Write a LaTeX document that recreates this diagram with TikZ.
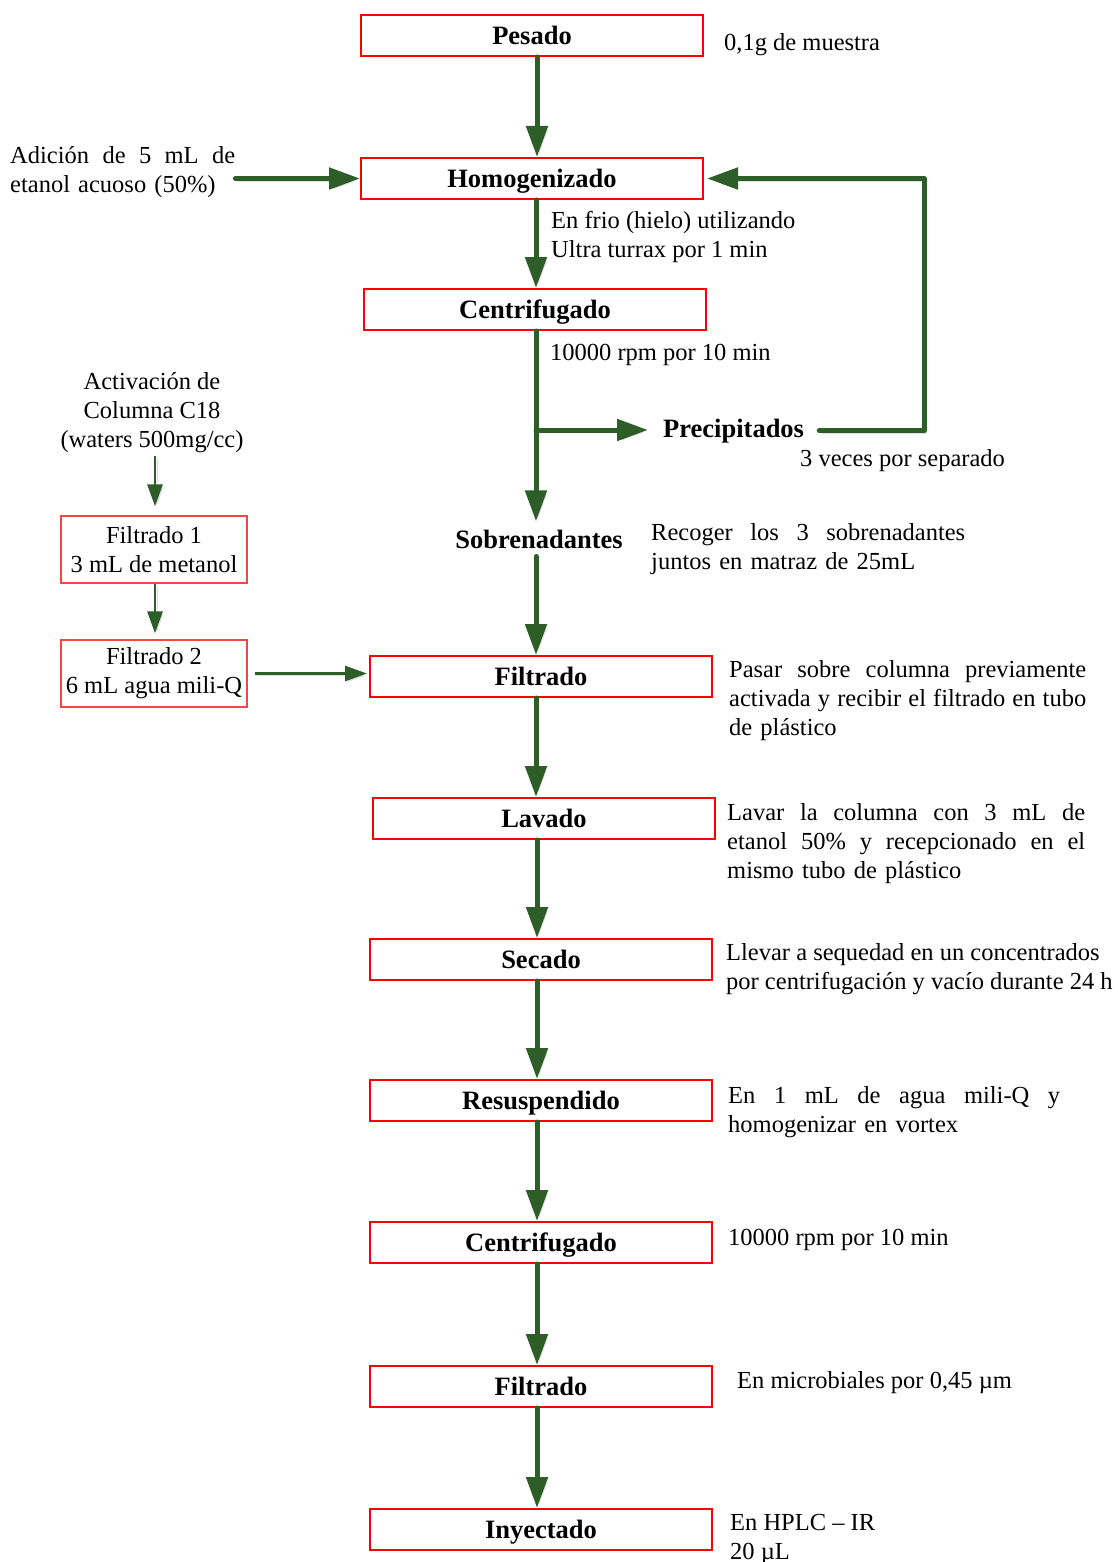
\documentclass[tikz,border=0pt]{standalone}
\usepackage{fontspec}
\setmainfont{Liberation Serif}
\usetikzlibrary{arrows.meta,calc}
\definecolor{flowgreen}{RGB}{46,94,40}
\definecolor{boxred}{RGB}{255,0,0}
\definecolor{softred}{RGB}{245,70,70}
% one justified line of a fixed width (in pt): interword glue stretches to fill
\newcommand{\jl}[2]{\leavevmode\hbox to #1pt{\spaceskip=0.25em plus 1fil\relax #2}}

\begin{document}
\begin{tikzpicture}[x=1pt,y=-1pt,
  every node/.style={font=\fontsize{24.5}{29}\selectfont},
  stage/.style={draw=boxred, line width=2pt, minimum width=342pt, minimum height=41pt,
    inner sep=0pt, text height=18pt, text depth=0pt,
    font=\fontsize{26.5}{30}\selectfont\bfseries},
  sidebox/.style={draw=softred, line width=1.3pt, minimum width=186pt, minimum height=67pt,
    align=center, inner sep=0pt},
  note/.style={inner sep=0pt, anchor=base west},
  block/.style={inner sep=0pt, anchor=north west, align=left},
  tagtext/.style={inner sep=0pt, font=\fontsize{26.5}{30}\selectfont\bfseries},
  flow/.style={draw=flowgreen, line width=5pt, line cap=round, line join=round,
    -{Triangle[length=31pt,width=21pt]},
    preaction={draw=black!13, transform canvas={xshift=2.5pt,yshift=-2.5pt}}},
  thinflow/.style={draw=flowgreen, line width=2.8pt,
    -{Triangle[length=22pt,width=15pt]},
    preaction={draw=black!13, transform canvas={xshift=2pt,yshift=-2pt}}},
]
\useasboundingbox (0,0) rectangle (1117,1562);
\fill[white] (0,0) rectangle (1117,1562);

% main process column
\node[stage] (pes)  at (532,35.5)   {Pesado};
\node[stage] (hom)  at (532,178.5)  {Homogenizado};
\node[stage] (cen1) at (535,309.5)  {Centrifugado};
\node[stage] (fil1) at (541,676.5)  {Filtrado};
\node[stage] (lav)  at (544,818.5)  {Lavado};
\node[stage] (sec)  at (541,959.5)  {Secado};
\node[stage] (res)  at (541,1100.5) {Resuspendido};
\node[stage] (cen2) at (541,1242.5) {Centrifugado};
\node[stage] (fil2) at (541,1386.5) {Filtrado};
\node[stage] (iny)  at (541,1529.5) {Inyectado};

\node[tagtext, inner ysep=8pt, anchor=base] (sob) at (539,548) {Sobrenadantes};
\node[tagtext, inner xsep=15pt, inner ysep=4pt, anchor=base west] (pre) at (648,437) {Precipitados};

% column activation branch
\node[inner sep=0pt, anchor=north, align=center] (act) at (152,389-20.3)
  {\strut Activación de\\Columna C18\\(waters 500mg/cc)};
\node[sidebox] (f1) at (154,549.5) {Filtrado 1\\3 mL de metanol};
\node[sidebox] (f2) at (154,673.5) {Filtrado 2\\6 mL agua mili-Q};

% annotations
\node[note] (t0) at (724,51) {0,1g de muestra};
\node[block, text width=225pt] (adi) at (10,163-20.3)
  {\strut\jl{225}{Adición de 5 mL de}\\etanol acuoso (50\%)};
\node[block] (t1) at (551,228-20.3) {\strut En frio (hielo) utilizando\\Ultra turrax por 1 min};
\node[note] (t2) at (550,360) {10000 rpm por 10 min};
\node[note] (t3) at (800,466) {3 veces por separado};
\node[block, text width=314pt] (t4) at (651,540-20.3)
  {\strut\jl{314}{Recoger los 3 sobrenadantes}\\juntos en matraz de 25mL};
\node[block, text width=357pt] (t5) at (729,677-20.3)
  {\strut\jl{357}{Pasar sobre columna previamente}\\\jl{357}{activada y recibir el filtrado en tubo}\\de plástico};
\node[block, text width=358pt] (t6) at (727,820-20.3)
  {\strut\jl{358}{Lavar la columna con 3 mL de}\\\jl{358}{etanol 50\% y recepcionado en el}\\mismo tubo de plástico};
\node[block] (t7) at (726,960-20.3)
  {\strut Llevar a sequedad en un concentrados\\por centrifugación y vacío durante 24 h};
\node[block, text width=332pt] (t8) at (728,1103-20.3)
  {\strut\jl{332}{En 1 mL de agua mili-Q y}\\homogenizar en vortex};
\node[note] (t9) at (728,1245) {10000 rpm por 10 min};
\node[note] (t10) at (737,1388) {En microbiales por 0,45 µm};
\node[block] (t11) at (730,1530-20.3) {\strut En HPLC – IR\\20 µL};

% guide coordinates for connector columns
\coordinate (ax) at (537,0);
\coordinate (bx) at (536,0);
\coordinate (lx) at (924,0);
\coordinate (sx) at (155,0);
\coordinate (br) at (536,430);

% main flow
\draw[flow] (pes.south -| ax) -- (hom.north -| ax);
\draw[flow] (adi.east |- hom.west) -- (hom.west);
\draw[flow] (hom.south -| bx) -- (cen1.north -| bx);
\draw[flow] (cen1.south -| bx) -- (sob.north -| bx);
\draw[flow] (br) -- (br -| pre.west);
\draw[flow] (pre.east) -- (pre.east -| lx) -- (hom.east -| lx) -- ([xshift=3pt]hom.east);
\draw[flow] (sob.south -| bx) -- (fil1.north -| bx);
\draw[flow] (fil1.south -| bx) -- (lav.north -| bx);
\draw[flow] (lav.south -| ax) -- (sec.north -| ax);
\draw[flow] (sec.south -| ax) -- (res.north -| ax);
\draw[flow] (res.south -| ax) -- (cen2.north -| ax);
\draw[flow] (cen2.south -| ax) -- (fil2.north -| ax);
\draw[flow] (fil2.south -| ax) -- (iny.north -| ax);

% activation branch flow
\draw[thinflow, shorten <=3pt, shorten >=9pt] (act.south -| sx) -- (f1.north -| sx);
\draw[thinflow, shorten >=6pt] (f1.south -| sx) -- (f2.north -| sx);
\draw[thinflow, shorten <=7pt, shorten >=2pt] (f2.east) -- (f2.east -| fil1.west);
\end{tikzpicture}
\end{document}
